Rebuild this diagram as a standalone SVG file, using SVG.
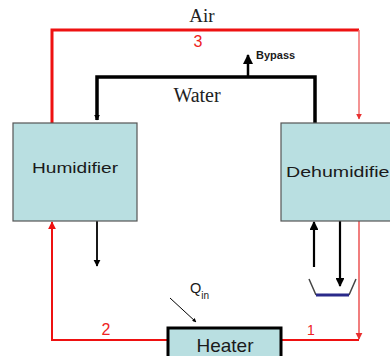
<svg xmlns="http://www.w3.org/2000/svg" width="390" height="356" viewBox="0 0 390 356">
<defs>
<style>
.box{fill:#b9dfe1;stroke:#555;stroke-width:1.2}
.lbl{font-family:"Liberation Sans",Arial,sans-serif;fill:#1a1a1a}
.ser{font-family:"Liberation Serif","Times New Roman",serif;fill:#222}
.num{font-family:"Liberation Sans",Arial,sans-serif;fill:#ee2222}
.red{fill:none;stroke:#ee1111}
.pink{fill:none;stroke:#f07070}
.blk{fill:none;stroke:#000}
</style>
<marker id="ab" viewBox="0 0 10 10" refX="9" refY="5" markerWidth="4" markerHeight="4" orient="auto"><path d="M0,0L10,5L0,10z" fill="#000"/></marker>
<marker id="ar" viewBox="0 0 10 10" refX="9" refY="5" markerWidth="4" markerHeight="4" orient="auto"><path d="M0,0L10,5L0,10z" fill="#ee1111"/></marker>
<marker id="ap" viewBox="0 0 10 10" refX="9" refY="5" markerWidth="4" markerHeight="4" orient="auto"><path d="M0,0L10,5L0,10z" fill="#e83030"/></marker>
</defs>
<rect width="390" height="356" fill="#fff"/>
<g id="connectors">
<path class="red" d="M52,123V30H359" stroke-width="3"/>
<path class="pink" d="M359,30V119" stroke-width="1.5" marker-end="url(#ap)"/>
<path class="blk" d="M315,123V77H97V120" stroke-width="3.5"/>
<path class="blk" d="M97,77V120" stroke-width="1.5" marker-end="url(#ab)"/>
<path class="blk" d="M248,77V55" stroke-width="2.5" marker-end="url(#ab)"/>
<path class="blk" d="M97,221V266" stroke-width="1.8" marker-end="url(#ab)"/>
<path class="red" d="M167,340H52V222" stroke-width="2" marker-end="url(#ar)"/>
<path class="pink" d="M359,221V339" stroke-width="1.8" marker-end="url(#ap)"/>
<path class="red" d="M359,340H281" stroke-width="2"/>
<path class="blk" d="M314,267V222" stroke-width="2.2" marker-end="url(#ab)"/>
<path class="blk" d="M340,221V286" stroke-width="2.2" marker-end="url(#ab)"/>
<path class="blk" d="M170,298L196,322" stroke-width="1" marker-end="url(#ab)"/>
<path d="M309,279L316,295M349,295L356,279" stroke="#444" stroke-width="1.5" fill="none"/>
<path d="M316,295H349" stroke="#2a2a8a" stroke-width="3" fill="none"/>
</g>
<g id="humidifier">
<rect class="box" x="13" y="123" width="124" height="98"/>
<text class="lbl" x="32" y="173" font-size="15.5" textLength="86" lengthAdjust="spacingAndGlyphs">Humidifier</text>
</g>
<g id="dehumidifier">
<rect class="box" x="281" y="123" width="120" height="98"/>
<text class="lbl" x="286" y="177" font-size="15.5" textLength="110" lengthAdjust="spacingAndGlyphs">Dehumidifier</text>
</g>
<g id="heater">
<rect x="168" y="328" width="113" height="31" fill="#b9dfe1" stroke="#000" stroke-width="3"/>
<text class="lbl" x="225" y="352" font-size="19" text-anchor="middle">Heater</text>
</g>
<g id="labels">
<text class="ser" x="202" y="22" font-size="19" text-anchor="middle">Air</text>
<text class="num" x="198" y="47" font-size="16" text-anchor="middle">3</text>
<text class="ser" x="197" y="102" font-size="20" text-anchor="middle">Water</text>
<text class="lbl" x="256" y="59" font-size="11" font-weight="bold">Bypass</text>
<text class="num" x="106" y="335" font-size="16" text-anchor="middle">2</text>
<text class="num" x="311" y="335" font-size="14" text-anchor="middle">1</text>
<text class="lbl" x="190" y="293" font-size="14.5">Q<tspan font-size="10" dy="6">in</tspan></text>
</g>
</svg>
